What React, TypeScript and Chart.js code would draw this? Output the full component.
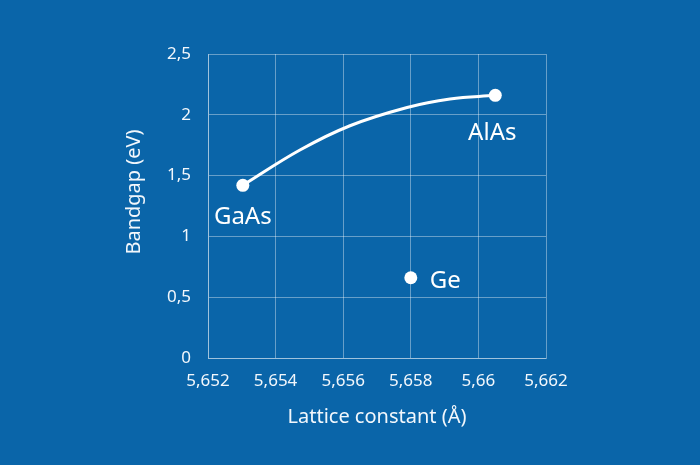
import React, { useEffect, useRef } from "react";
import { Chart, registerables } from "chart.js";
Chart.register(...registerables);

// Alloy curve GaAs -> AlAs
const curveX = [5.65303, 5.65472, 5.6562, 5.65789, 5.65916, 5.6605];
const curveY = [1.42, 1.71, 1.91, 2.06, 2.13, 2.16];

// Materials
const materialNames = ["GaAs", "AlAs", "Ge"];
const materialX = [5.65303, 5.6605, 5.658];
const materialY = [1.42, 2.16, 0.66];

const xTicks = [5.652, 5.654, 5.656, 5.658, 5.66, 5.662];
const yTicks = [0, 0.5, 1, 1.5, 2, 2.5];

const xTitle = "Lattice constant (Å)";
const yTitle = "Bandgap (eV)";

const BG = "#0a65a9";
const GRID = "rgba(255,255,255,0.38)";
const TEXT = "#f2f7fc";
const FONT = "'Noto Sans', sans-serif";

// label placement relative to point (pixels): dx, dy (baseline), align
const labelOffsets = [
  { dx: 0, dy: 39, align: "center" },
  { dx: -3, dy: 45, align: "center" },
  { dx: 19, dy: 10, align: "left" },
];

const fmt = (v: number) => String(Number(v.toFixed(3))).replace(".", ",");

export default function App() {
  const ref = useRef<HTMLCanvasElement>(null);
  useEffect(() => {
    if (!ref.current) return;
    const bgPlugin = {
      id: "bg",
      beforeDraw(chart: any) {
        const { ctx, width, height } = chart;
        ctx.save();
        ctx.fillStyle = BG;
        ctx.fillRect(0, 0, width, height);
        ctx.restore();
      },
      afterDraw(chart: any) {
        const { ctx } = chart;
        const xs = chart.scales.x;
        const ys = chart.scales.y;
        ctx.save();
        ctx.fillStyle = "#ffffff";
        ctx.font = `24px ${FONT}`;
        ctx.textBaseline = "alphabetic";
        materialNames.forEach((n, i) => {
          const o = labelOffsets[i];
          ctx.textAlign = o.align;
          ctx.fillText(n, xs.getPixelForValue(materialX[i]) + o.dx, ys.getPixelForValue(materialY[i]) + o.dy);
        });
        ctx.fillStyle = TEXT;
        ctx.font = `20px ${FONT}`;
        ctx.textAlign = "center";
        ctx.fillText(xTitle, 377, 423);
        ctx.translate(140, 192);
        ctx.rotate(-Math.PI / 2);
        ctx.textBaseline = "alphabetic";
        ctx.fillText(yTitle, 0, 0);
        ctx.restore();
      },
    };
    const chart = new Chart(ref.current, {
      type: "scatter",
      data: {
        datasets: [
          {
            type: "line",
            data: curveX.map((x, i) => ({ x, y: curveY[i] })),
            borderColor: "#ffffff",
            borderWidth: 3,
            tension: 0.4,
            pointRadius: 0,
            fill: false,
          },
          {
            type: "scatter",
            data: materialX.map((x, i) => ({ x, y: materialY[i] })),
            backgroundColor: "#ffffff",
            borderColor: "#ffffff",
            pointRadius: 6.5,
            borderWidth: 0,
          },
        ],
      },
      options: {
        animation: false,
        responsive: false,
        layout: { padding: { left: 0, right: 154, top: 54, bottom: 0 } },
        plugins: { legend: { display: false }, tooltip: { enabled: false } },
        scales: {
          x: {
            type: "linear",
            min: 5.652,
            max: 5.662,
            afterBuildTicks: (s: any) => {
              s.ticks = xTicks.map((v) => ({ value: v }));
            },
            afterFit: (s: any) => {
              s.height = 107;
            },
            grid: { color: GRID, drawTicks: false, lineWidth: 1 },
            border: { color: GRID },
            ticks: {
              color: TEXT,
              font: { family: FONT, size: 17 },
              padding: 13,
              maxRotation: 0,
              autoSkip: false,
              callback: (v: any) => fmt(Number(v)),
            },
          },
          y: {
            type: "linear",
            min: 0,
            max: 2.5,
            afterBuildTicks: (s: any) => {
              s.ticks = yTicks.map((v) => ({ value: v }));
            },
            afterFit: (s: any) => {
              s.width = 208;
            },
            grid: { color: GRID, drawTicks: false, lineWidth: 1 },
            border: { color: GRID },
            ticks: {
              color: TEXT,
              font: { family: FONT, size: 17 },
              padding: 17,
              autoSkip: false,
              callback: (v: any) => fmt(Number(v)),
            },
          },
        },
      },
      plugins: [bgPlugin],
    } as any);
    return () => chart.destroy();
  }, []);
  return (
    <div style={{ position: "fixed", left: 0, top: 0, width: 700, height: 465, background: BG }}>
      <canvas ref={ref} width={700} height={465} style={{ width: 700, height: 465, display: "block" }} />
    </div>
  );
}
